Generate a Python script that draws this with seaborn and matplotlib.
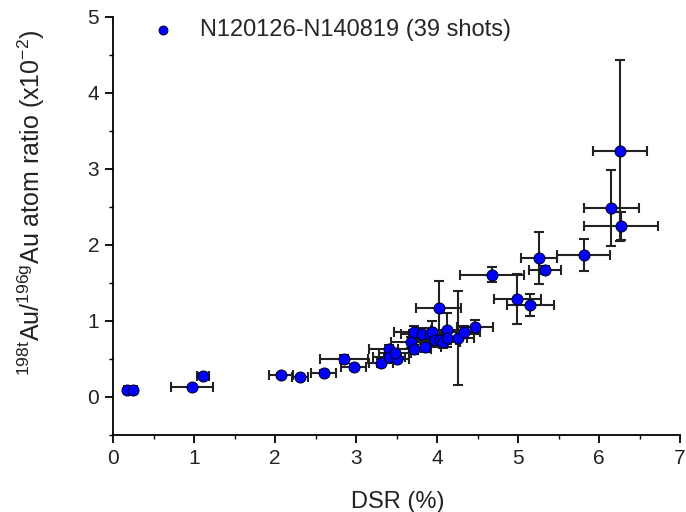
import matplotlib
matplotlib.use("Agg")
import matplotlib.pyplot as plt
import seaborn as sns
import pandas as pd
from matplotlib.ticker import MultipleLocator

dsr = [0.17, 0.25, 0.97, 1.11, 2.07, 2.31, 2.60, 2.85, 2.97, 3.31,
       3.41, 3.41, 3.50, 3.48, 3.68, 3.72, 3.72, 3.81, 3.85, 3.91,
       3.94, 3.98, 4.02, 4.04, 4.08, 4.12, 4.12, 4.26, 4.33, 4.47,
       4.68, 4.99, 5.15, 5.26, 5.33, 5.81, 6.15, 6.27, 6.26]
ratio = [0.09, 0.09, 0.13, 0.28, 0.29, 0.26, 0.32, 0.50, 0.40, 0.45,
         0.63, 0.53, 0.50, 0.58, 0.72, 0.85, 0.63, 0.83, 0.66, 0.83,
         0.85, 0.75, 1.17, 0.75, 0.72, 0.88, 0.78, 0.78, 0.86, 0.92,
         1.61, 1.29, 1.21, 1.83, 1.67, 1.87, 2.49, 2.25, 3.24]
dsr_err = [0.04, 0.05, 0.26, 0.07, 0.15, 0.10, 0.15, 0.30, 0.15, 0.15,
           0.25, 0.20, 0.15, 0.20, 0.25, 0.25, 0.20, 0.25, 0.20, 0.25,
           0.20, 0.25, 0.28, 0.25, 0.20, 0.20, 0.25, 0.20, 0.20, 0.22,
           0.40, 0.29, 0.29, 0.22, 0.20, 0.33, 0.34, 0.46, 0.33]
ratio_err = [0.01, 0.01, 0.02, 0.03, 0.03, 0.02, 0.03, 0.05, 0.04, 0.05,
             0.06, 0.05, 0.05, 0.05, 0.07, 0.08, 0.06, 0.08, 0.07, 0.08,
             0.15, 0.08, 0.36, 0.08, 0.08, 0.22, 0.08, 0.62, 0.08, 0.09,
             0.10, 0.33, 0.15, 0.34, 0.05, 0.21, 0.50, 0.18, 1.19]
legend_label = "N120126-N140819 (39 shots)"

df = pd.DataFrame({"DSR": dsr, "ratio": ratio})

sns.set_theme(style="ticks")
plt.rcParams["font.family"] = ["Liberation Sans", "DejaVu Sans"]
plt.rcParams["mathtext.fontset"] = "custom"
plt.rcParams["mathtext.rm"] = "Liberation Sans"
plt.rcParams["mathtext.it"] = "Liberation Sans:italic"

fig = plt.figure(figsize=(6.86, 5.12), dpi=100)
ax = fig.add_axes([113 / 686, (512 - 435) / 512, 567 / 686, 418 / 512])

ax.errorbar(dsr, ratio, xerr=dsr_err, yerr=ratio_err, fmt="none",
            ecolor="#222222", elinewidth=1.5, capsize=3.5, capthick=1.5, zorder=2)
sns.scatterplot(data=df, x="DSR", y="ratio", ax=ax, color="#0000ff",
                edgecolor="#000033", linewidth=0.8, s=62, zorder=3,
                label=legend_label)

ax.set_xlim(0, 7)
ax.set_ylim(-0.5, 5)
ax.xaxis.set_major_locator(MultipleLocator(1))
ax.xaxis.set_minor_locator(MultipleLocator(0.5))
ax.yaxis.set_major_locator(MultipleLocator(1))
ax.yaxis.set_minor_locator(MultipleLocator(0.5))
ax.tick_params(which="major", direction="out", length=6, width=1.3,
               labelsize=15, color="black", labelcolor="#222222", pad=4)
ax.tick_params(which="minor", direction="out", length=3, width=1.0, color="black")
for side in ["top", "right"]:
    ax.spines[side].set_visible(False)
for side in ["left", "bottom"]:
    ax.spines[side].set_linewidth(1.3)
    ax.spines[side].set_color("black")

ax.set_xlabel("DSR (%)", fontsize=17, color="#222222")
ax.xaxis.set_label_coords(0.503, -0.134)
ax.set_ylabel(r"$^{\mathrm{198t}}$Au/$^{\mathrm{196g}}$Au atom ratio (x10$^{\mathrm{-2}}$)",
              fontsize=18, color="#222222")
ax.yaxis.set_label_coords(-0.116, 0.555)

leg = ax.legend(loc="center left", frameon=False, fontsize=17,
                bbox_to_anchor=(0.067, 0.969), borderpad=0, borderaxespad=0,
                handlelength=1.0, handletextpad=1.08, markerscale=0.8)

fig.savefig("out.png", dpi=100)
